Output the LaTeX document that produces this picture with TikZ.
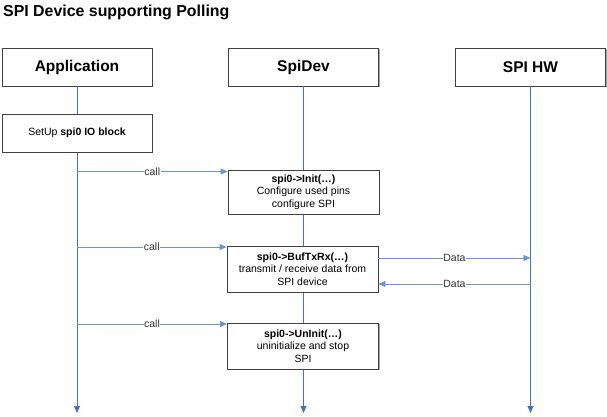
\documentclass[tikz,border=0pt]{standalone}
\usepackage{fontspec}
\setmainfont{Liberation Sans}
\usetikzlibrary{arrows.meta,shadows}
\definecolor{lifeblue}{RGB}{68,114,196}
\definecolor{msgblue}{RGB}{105,148,208}
\definecolor{boxgray}{RGB}{64,64,64}

\begin{document}
\begin{tikzpicture}[x=1pt,y=-1pt]
      \tikzset{actor/.style={draw=boxgray, fill=white, line width=0.9pt,
          minimum width=150pt, minimum height=38pt, inner sep=0pt,
          font=\fontsize{15.5}{18}\selectfont\bfseries,
          drop shadow={shadow xshift=1.2pt, shadow yshift=-1.2pt, fill=gray!70, opacity=1}},
        action/.style={actor, minimum width=151pt, minimum height=46pt,
          align=center, font=\fontsize{10.5}{12.5}\selectfont},
        life/.style={draw=lifeblue, line width=0.8pt, -{Triangle[length=7pt,width=6pt]}},
        msg/.style={draw=msgblue, line width=0.9pt, -{Triangle[length=7pt,width=6pt]}},
        msglabel/.style={fill=white, inner sep=0.5pt, text=black!80,
          font=\fontsize{10.5}{12}\selectfont}
      }
      \useasboundingbox (0,0) rectangle (607,417);
      \node [anchor=west, inner sep=0pt, font=\fontsize{15.9}{18}\selectfont\bfseries] (title) at (3,12) {SPI Device supporting Polling};

      \node [actor] (app) at (77,67) {Application};
      \node [actor] (dev) at (303.5,67) {SpiDev};
      \node [actor] (hw) at (530.5,67) {SPI HW};
      \coordinate (append) at (77,413);
      \coordinate (devend) at (303.5,413);
      \coordinate (hwend) at (530.5,413);
      \draw [life] (app) -- (append);
      \draw [life] (dev) -- (devend);
      \draw [life] (hw) -- (hwend);

      \node [action, minimum width=150pt, minimum height=38pt] (setup) at (77,133) {SetUp \textbf{spi0 IO block}};
      \node [action, minimum height=44pt] (init) at (303.5,192) {\textbf{spi0->Init(…)}\\Configure used pins\\configure SPI};
      \node [action] (buf) at (302.5,269) {\textbf{spi0->BufTxRx(…)}\\transmit / receive data from\\SPI device};
      \node [action] (uninit) at (303,346) {\textbf{spi0->UnInit(…)}\\uninitialize and stop\\SPI};

      \coordinate (call1) at (77,171.5);
      \coordinate (call2) at (77,247);
      \coordinate (call3) at (77,324);
      \draw [msg] (call1) -- (call1 -| init.west) node [msglabel, midway] {call};
      \draw [msg] (call2) -- (call2 -| buf.west) node [msglabel, midway] {call};
      \draw [msg] (call3) -- (call3 -| uninit.west) node [msglabel, midway] {call};

      \coordinate (tx) at (530.5,258);
      \coordinate (rx) at (530.5,284);
      \draw [msg] (buf.east |- tx) -- (tx) node [msglabel, midway] {Data};
      \draw [msg] (rx) -- (buf.east |- rx) node [msglabel, midway] {Data};

    \end{tikzpicture}
\end{document}
